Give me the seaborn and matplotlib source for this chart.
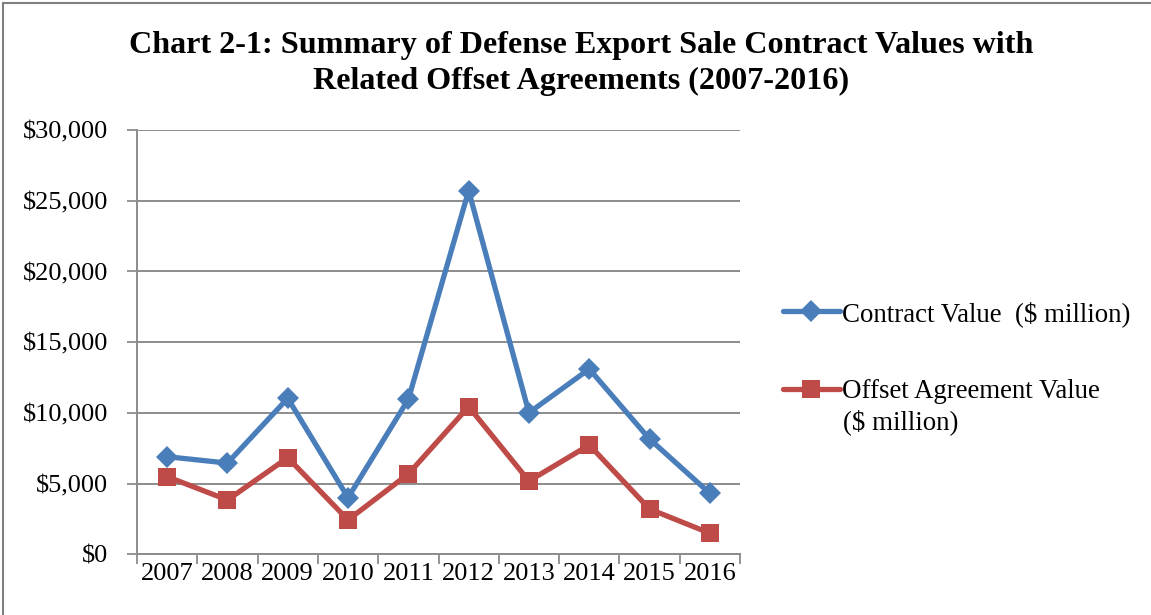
import matplotlib
matplotlib.use("Agg")
import matplotlib.pyplot as plt
import seaborn as sns
import pandas as pd
from matplotlib.lines import Line2D
from matplotlib.patches import Rectangle

years = ["2007", "2008", "2009", "2010", "2011", "2012", "2013", "2014", "2015", "2016"]
contract_value = [6900, 6450, 11030, 4000, 10960, 25710, 10010, 13100, 8150, 4310]
offset_value = [5490, 3840, 6830, 2430, 5680, 10440, 5180, 7730, 3200, 1490]
y_ticks = [0, 5000, 10000, 15000, 20000, 25000, 30000]
y_tick_labels = ["$0", "$5,000", "$10,000", "$15,000", "$20,000", "$25,000", "$30,000"]

series_names = ["Contract Value  ($ million)", "Offset Agreement Value"]
unit_suffix = "($ million)"
blue = "#4A7EBB"
red = "#BE4B48"
grid_gray = "#8C8C8C"

sns.set_theme(style="white")
plt.rcParams["font.family"] = ["Liberation Serif", "DejaVu Serif"]
plt.rcParams["text.color"] = "black"

df = pd.DataFrame({
    "pos": list(range(len(years))) * 2,
    "value": contract_value + offset_value,
    "series": [series_names[0]] * len(years) + [series_names[1]] * len(years),
})

fig = plt.figure(figsize=(11.51, 6.15), dpi=100)
ax = fig.add_axes([137 / 1151, 1 - 554.3 / 615, (740 - 137) / 1151, (554.3 - 130) / 615])

sns.lineplot(data=df, x="pos", y="value", hue="series", style="series",
             markers={series_names[0]: "D", series_names[1]: "s"}, dashes=False,
             palette={series_names[0]: blue, series_names[1]: red},
             linewidth=3.8, markersize=12, markeredgewidth=0, ax=ax, legend=False)
# diamond slightly smaller than square
for line, ms in zip(ax.lines, [11.5, 12.5]):
    line.set_markersize(ms)

ax.set_xlim(-0.5, len(years) - 0.5)
ax.set_ylim(0, 30000)
ax.set_yticks(y_ticks)
ax.set_yticklabels(y_tick_labels)
ax.set_xticks([i - 0.5 for i in range(len(years) + 1)])
ax.set_xticklabels([])
ax.set_xticks(range(len(years)), minor=True)
ax.set_xticklabels(years, minor=True)
ax.tick_params(axis="x", which="minor", length=0, labelsize=19, pad=6, labelcolor="black")
ax.tick_params(axis="x", which="major", length=7, width=1.3, color=grid_gray, direction="out", bottom=True)
ax.tick_params(axis="y", length=7, width=1.3, color=grid_gray, direction="out", left=True,
               labelsize=19, pad=14, labelcolor="black")
ax.set_xlabel("")
ax.set_ylabel("")

ax.yaxis.grid(True, color=grid_gray, linewidth=1.4)
ax.set_axisbelow(True)
for side in ["top", "right"]:
    ax.spines[side].set_visible(False)
for side in ["left", "bottom"]:
    ax.spines[side].set_color(grid_gray)
    ax.spines[side].set_linewidth(1.4)

fig.text(0.505, 1 - 45 / 615, "Chart 2-1: Summary of Defense Export Sale Contract Values with",
         ha="center", va="center", fontsize=23.1, fontweight="bold", color="black")
fig.text(0.505, 1 - 81 / 615, "Related Offset Agreements (2007-2016)",
         ha="center", va="center", fontsize=23.1, fontweight="bold", color="black")

handles = [
    Line2D([], [], color=blue, lw=3.8, marker="D", markersize=11.5, markeredgewidth=0),
    Line2D([], [], color=red, lw=3.8, marker="s", markersize=12.5, markeredgewidth=0),
]
leg = fig.legend(handles, series_names, loc="upper left", bbox_to_anchor=(783 / 1151, 1 - 301 / 615),
                 frameon=False, fontsize=19.4, handlelength=2.1, handletextpad=0.1,
                 labelspacing=1.95, borderaxespad=0, borderpad=0)
for t in leg.get_texts():
    t.set_color("black")
# second line of the offset label, hanging under the legend text
fig.text(843 / 1151, 1 - 422 / 615, unit_suffix, ha="left", va="center",
         fontsize=19.4, color="black")

# outer frame: only top and left edges fall inside the canvas
fig.patches.append(Rectangle((3 / 1151, -0.1), 1.2, 1 - 3 / 615 + 0.1, transform=fig.transFigure,
                             fill=False, edgecolor="#808080", linewidth=1.5))

fig.savefig("out.png", dpi=100)
